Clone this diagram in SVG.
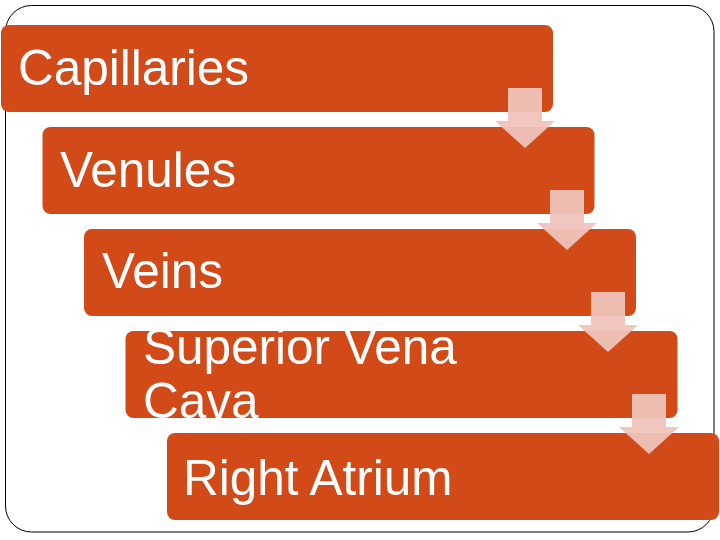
<svg xmlns="http://www.w3.org/2000/svg" width="720" height="540" viewBox="0 0 720 540">
<style>
.box{fill:#D24A18;}
.lbl{font-family:"Liberation Sans",Arial,sans-serif;font-size:49.5px;fill:#ffffff;}
.arr{fill:#EFC3BA;fill-opacity:0.95;}
</style>
<rect x="0" y="0" width="720" height="540" fill="#ffffff"/>
<rect x="5.5" y="5.5" width="708.5" height="526.5" rx="26" ry="26" fill="none" stroke="#000000" stroke-width="1"/>
<g id="n1"><rect class="box" x="1" y="25" width="552" height="87" rx="8"/><text class="lbl" x="18" y="85">Capillaries</text></g>
<g id="n2"><rect class="box" x="42.5" y="127" width="552" height="87" rx="8"/><text class="lbl" x="60" y="187">Venules</text></g>
<g id="n3"><rect class="box" x="84" y="229" width="552" height="87" rx="8"/><text class="lbl" x="102" y="288">Veins</text></g>
<g id="n4"><rect class="box" x="125.5" y="331" width="552" height="87" rx="8"/><text class="lbl" x="143" y="364">Superior Vena</text><text class="lbl" x="143" y="418">Cava</text></g>
<g id="n5"><rect class="box" x="167" y="433" width="552" height="87" rx="8"/><text class="lbl" x="183" y="495">Right Atrium</text></g>
<g id="connectors">
<path class="arr" d="M508,88 H542 V121 H555 L525,148 L495,121 H508 Z"/>
<path class="arr" d="M550,190 H584 V223 H597 L567,250 L537,223 H550 Z"/>
<path class="arr" d="M591,292 H625 V325 H638 L608,352 L578,325 H591 Z"/>
<path class="arr" d="M632,394 H666 V427 H679 L649,454 L619,427 H632 Z"/>
</g>
</svg>
